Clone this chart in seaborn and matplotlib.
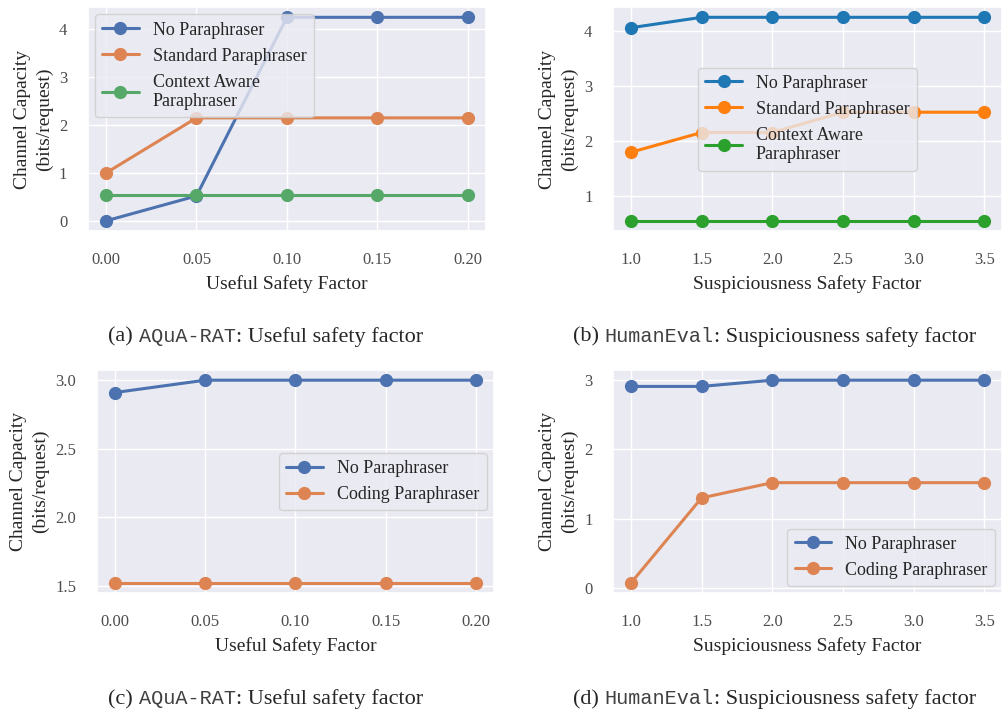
import numpy as np
import seaborn as sns
import matplotlib.pyplot as plt

# data
useful_x = [0.00, 0.05, 0.10, 0.15, 0.20]
susp_x = [1.0, 1.5, 2.0, 2.5, 3.0, 3.5]

a_none = [0.0, 0.52, 4.25, 4.25, 4.25]
a_standard = [1.0, 2.15, 2.15, 2.15, 2.15]
a_context = [0.53, 0.53, 0.53, 0.53, 0.53]

b_none = [4.06, 4.25, 4.25, 4.25, 4.25, 4.25]
b_standard = [1.79, 2.15, 2.15, 2.52, 2.52, 2.52]
b_context = [0.54, 0.54, 0.54, 0.54, 0.54, 0.54]

c_none = [2.91, 3.0, 3.0, 3.0, 3.0]
c_coding = [1.52, 1.52, 1.52, 1.52, 1.52]

d_none = [2.91, 2.91, 3.0, 3.0, 3.0, 3.0]
d_coding = [0.07, 1.30, 1.52, 1.52, 1.52, 1.52]

sns.set_theme(style="darkgrid")
plt.rcParams['font.family'] = ['Liberation Serif', 'DejaVu Serif']
plt.rcParams['axes.labelcolor'] = '.15'

deep = sns.color_palette("deep")
tab = sns.color_palette("tab10")

fig = plt.figure(figsize=(10.02, 7.13), dpi=100)
ax_a = fig.add_axes([0.0878, 0.676, 0.397, 0.314])
ax_b = fig.add_axes([0.612, 0.676, 0.388, 0.314])
ax_c = fig.add_axes([0.0968, 0.168, 0.396, 0.313])
ax_d = fig.add_axes([0.612, 0.168, 0.388, 0.313])

line_kw = dict(marker='o', markersize=9.5, linewidth=2.2, markeredgewidth=0)


def draw(ax, x, series, colors):
    for (label, y), c in zip(series, colors):
        sns.lineplot(x=x, y=y, ax=ax, label=label, color=c, **line_kw)


draw(ax_a, useful_x, [("No Paraphraser", a_none),
                      ("Standard Paraphraser", a_standard),
                      ("Context Aware\nParaphraser", a_context)], deep)
draw(ax_b, susp_x, [("No Paraphraser", b_none),
                    ("Standard Paraphraser", b_standard),
                    ("Context Aware\nParaphraser", b_context)], tab)
draw(ax_c, useful_x, [("No Paraphraser", c_none),
                      ("Coding Paraphraser", c_coding)], deep)
draw(ax_d, susp_x, [("No Paraphraser", d_none),
                    ("Coding Paraphraser", d_coding)], deep)

ax_a.set_yticks([0, 1, 2, 3, 4])
ax_b.set_yticks([1, 2, 3, 4])
ax_c.set_yticks([1.5, 2.0, 2.5, 3.0])
ax_d.set_yticks([0, 1, 2, 3])
ax_a.set_xticks(useful_x)
ax_c.set_xticks(useful_x)
ax_b.set_xticks(susp_x)
ax_d.set_xticks(susp_x)
ax_a.set_xticklabels([f"{v:.2f}" for v in useful_x])
ax_c.set_xticklabels([f"{v:.2f}" for v in useful_x])
ax_c.set_yticklabels([f"{v:.1f}" for v in [1.5, 2.0, 2.5, 3.0]])

legend_locs = {ax_a: 'upper left', ax_b: 'center', ax_c: 'center right', ax_d: 'lower right'}
for ax, xl in [(ax_a, "Useful Safety Factor"), (ax_b, "Suspiciousness Safety Factor"),
               (ax_c, "Useful Safety Factor"), (ax_d, "Suspiciousness Safety Factor")]:
    ax.set_xlabel(xl, fontsize=14, labelpad=5)
    ax.set_ylabel("Channel Capacity\n(bits/request)", fontsize=14, linespacing=1.4, labelpad=4)
    ax.tick_params(labelsize=12, labelcolor='.3', pad=9)
    ax.legend(loc=legend_locs[ax], fontsize=13, framealpha=0.8, borderaxespad=0.4)

# captions with a monospace dataset name
renderer = fig.canvas.get_renderer()


def caption(xc, y, parts):
    texts = []
    for s, fam in parts:
        if fam == 'mono':
            t = fig.text(0, y, s, fontsize=14.5, family=['Liberation Mono'], color='.25',
                         va='baseline', ha='left')
        else:
            t = fig.text(0, y, s, fontsize=16, family=['Liberation Serif'],
                         va='baseline', ha='left')
        texts.append(t)
    widths = [t.get_window_extent(renderer).width for t in texts]
    x = xc * fig.bbox.width - sum(widths) / 2
    for t, w in zip(texts, widths):
        t.set_x(x / fig.bbox.width)
        x += w


caption(0.265, 0.521, [("(a) ", 'serif'), ("AQuA-RAT", 'mono'), (": Useful safety factor", 'serif')])
caption(0.773, 0.521, [("(b) ", 'serif'), ("HumanEval", 'mono'), (": Suspiciousness safety factor", 'serif')])
caption(0.265, 0.012, [("(c) ", 'serif'), ("AQuA-RAT", 'mono'), (": Useful safety factor", 'serif')])
caption(0.773, 0.012, [("(d) ", 'serif'), ("HumanEval", 'mono'), (": Suspiciousness safety factor", 'serif')])

fig.savefig("out.png", dpi=100)
